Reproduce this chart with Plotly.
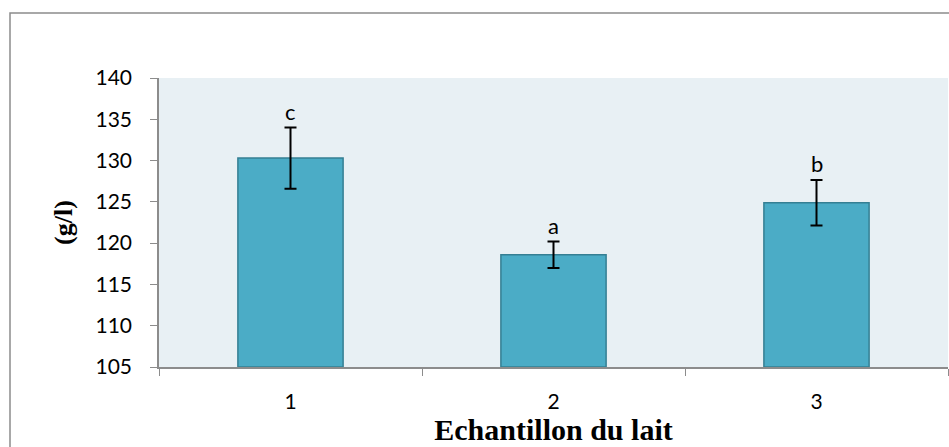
import plotly.graph_objects as go

# Milk samples: mean values (g/l), standard deviations and significance letters
samples = ["1", "2", "3"]
means = [130.3, 118.6, 124.9]
errors = [3.7, 1.6, 2.75]
letters = ["c", "a", "b"]

y_ticks = [105, 110, 115, 120, 125, 130, 135, 140]

W, H = 949, 447
ML, MR, MT, MB = 159, 1, 78, 80
pw, ph = W - ML - MR, H - MT - MB

fig = go.Figure()
fig.add_trace(go.Bar(
    x=samples,
    y=[m - 105 for m in means],
    base=105,
    marker=dict(color="#4BACC6", line=dict(color="#357F93", width=1.5)),
    error_y=dict(type="data", array=errors, color="#000000", thickness=2, width=6),
    showlegend=False,
    hoverinfo="skip",
))

# significance letters above each error bar (category index as x)
for i, (m, e, l) in enumerate(zip(means, errors, letters)):
    fig.add_annotation(x=i, y=m + e, text=l, showarrow=False, yanchor="middle",
                       yshift=16, font=dict(family="Lato, Open Sans, sans-serif", size=22, color="#000"))

# outer chart frame
fig.add_shape(type="rect", xref="paper", yref="paper",
              x0=(10 - ML) / pw, x1=(970 - ML) / pw,
              y0=-(H - MT - ph + 20) / ph, y1=1 + (MT - 13) / ph,
              line=dict(color="#8C8C8C", width=1.5), fillcolor="rgba(0,0,0,0)", layer="below")

fig.update_layout(
    width=W, height=H,
    margin=dict(l=ML, r=MR, t=MT, b=MB),
    paper_bgcolor="white",
    plot_bgcolor="#E8F0F4",
    bargap=0.6,
    font=dict(family="Lato, Open Sans, sans-serif", size=21, color="#000"),
    xaxis=dict(
        type="category",
        showline=True, linecolor="#8C8C8C", linewidth=1.5,
        ticks="outside", ticklen=7, tickcolor="#8C8C8C", tickson="boundaries",
        showgrid=False, ticklabelstandoff=15,
        title=dict(text="<b>Echantillon du lait</b>", standoff=2,
                   font=dict(family="Liberation Serif, Times New Roman, serif", size=30)),
    ),
    yaxis=dict(
        range=[105, 140], tickvals=y_ticks,
        showline=True, linecolor="#8C8C8C", linewidth=1.5,
        ticks="outside", ticklen=7, tickcolor="#8C8C8C",
        showgrid=False, zeroline=False, ticklabelstandoff=14,
        title=dict(text="<b>(g/l)</b>", standoff=15,
                   font=dict(family="Liberation Serif, Times New Roman, serif", size=26)),
    ),
)

fig.write_html("out.html")
